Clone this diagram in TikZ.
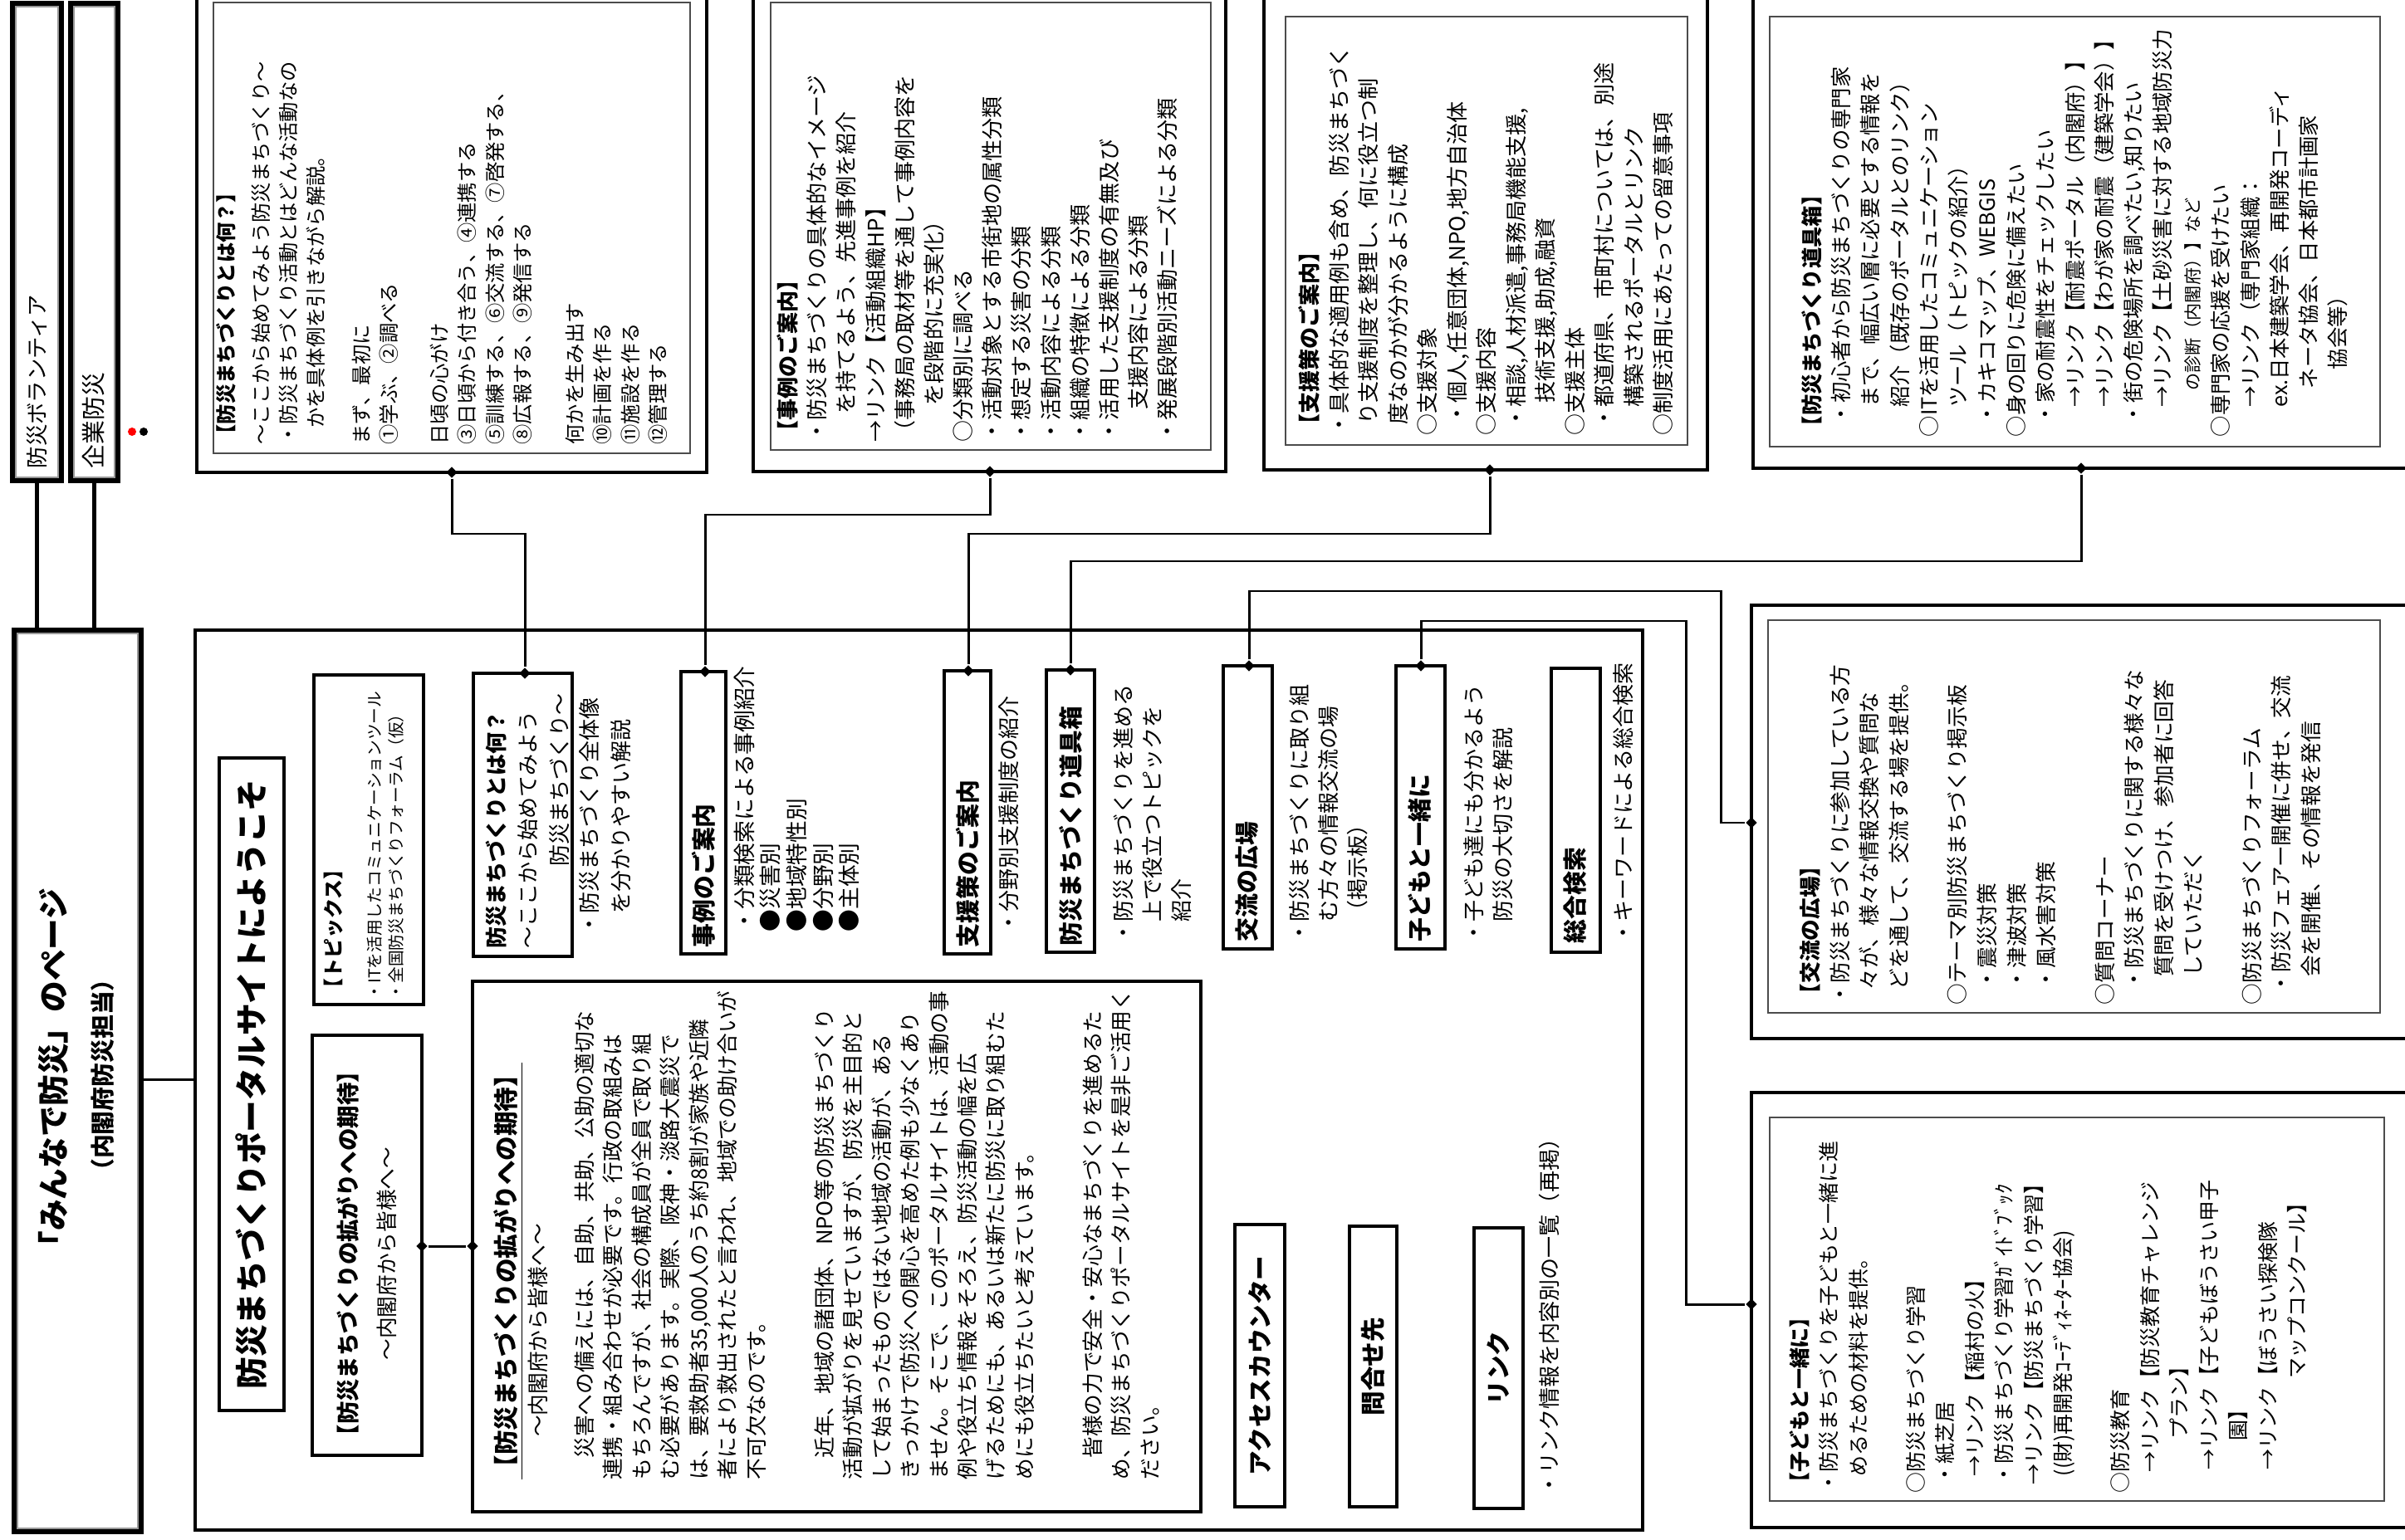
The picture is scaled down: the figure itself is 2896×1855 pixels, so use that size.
\documentclass[tikz,border=0pt]{standalone}
\usepackage{fontspec}
\setmainfont{Noto Sans CJK JP}
\usetikzlibrary{fit,shapes.geometric}

\newcommand{\ind}[1]{\hspace*{#1em}}

\begin{document}
\begin{tikzpicture}[x=0.01cm,y=-0.01cm,
  bar/.style={draw,line width=1.5pt,inner sep=0pt,path picture={\draw[black!40,line width=2.6pt] (path picture bounding box.south west) rectangle (path picture bounding box.north east);}},
  outer/.style={draw,line width=1.25pt,inner sep=0pt},
  inner/.style={draw=black!70,line width=0.7pt,inner sep=0pt},
  frame/.style={draw,line width=1pt,inner sep=0pt},
  menu/.style={draw,line width=0.95pt,inner sep=0pt},
  vtext/.style={rotate=90,anchor=north west,align=left,inner sep=0pt,font=\fontsize{7.4}{10}\selectfont},
  vlabel/.style={rotate=90,anchor=west,inner sep=0pt,font=\fontsize{8.2}{10}\selectfont\bfseries},
  vcenter/.style={rotate=90,inner sep=0pt,font=\fontsize{8.4}{10}\selectfont\bfseries},
  joint/.style={diamond,fill=black,inner sep=0pt,minimum size=0.14cm},
  link/.style={line width=0.85pt},
  trunk/.style={line width=1.6pt}
]
\useasboundingbox (0,0) rectangle (2896,1855);

% left column
\node[bar,fit={(15,4) (74,579)}] (volbar) {};
\node[bar,fit={(85,4) (142,579)}] (bizbar) {};
\node[bar,fit={(17,759) (170,1845)}] (titlebox) {};
\node[rotate=90,anchor=west,inner sep=0pt,font=\fontsize{7.5}{9}\selectfont] (voltext) at (45,565) {防災ボランティア};
\node[rotate=90,anchor=west,inner sep=0pt,font=\fontsize{8.2}{9}\selectfont] (biztext) at (113,565) {企業防災};
\node[circle,fill=red,inner sep=0pt,minimum size=0.1cm] (reddot) at (159,520) {};
\node[circle,fill=black,inner sep=0pt,minimum size=0.1cm] (blackdot) at (173,520) {};
\node[rotate=90,align=center,inner sep=0pt,font=\fontsize{10.7}{16}\selectfont\bfseries] (titletext) at (92,1295)
  {「みんなで防災」のページ\\{\fontsize{8.2}{10}\selectfont （内閣府防災担当）}};
\draw[trunk] (volbar.south) -- (volbar.south |- titlebox.north);
\draw[trunk] (bizbar.south) -- (bizbar.south |- titlebox.north);

% portal page
\node[frame,fit={(235,759) (1978,1843)}] (portal) {};
\draw[link] (titlebox.east |- 0,1300) -- (portal.west |- 0,1300);

\node[menu,fit={(264,913) (342,1699)}] (welcomebox) {};
\node[rotate=90,inner sep=0pt,font=\fontsize{11}{12}\selectfont\bfseries] (welcometext) at (welcomebox.center) {防災まちづくりポータルサイトにようこそ};

\node[menu,fit={(378,813) (510,1210)}] (topicsbox) {};
\node[vlabel,font=\fontsize{6.8}{8}\selectfont\bfseries] (topicstitle) at (402,1203) {【トピックス】};
\node[vtext,font=\fontsize{5.6}{7.4}\selectfont] (topicslist) at (441,1205) {・ITを活用したコミュニケーションツール\\・全国防災まちづくりフォーラム（仮）};

\node[menu,fit={(376,1247) (508,1753)}] (expectbox) {};
\node[vtext,align=center,font=\fontsize{7.3}{13}\selectfont] (expecttext) at (405,1744) {{\fontsize{7.8}{9}\selectfont\bfseries 【防災まちづくりの拡がりへの期待】}\\～内閣府から皆様へ～};

\node[menu,fit={(569,1182) (1446,1821)}] (messagebox) {};
\node[vtext,font=\fontsize{7.3}{9.8}\selectfont] (messagetext) at (594,1783) {{\fontsize{8.4}{10}\selectfont\bfseries\underline{【防災まちづくりの拡がりへの期待】}}\\[0.8pt]
\ind{2}～内閣府から皆様へ～\\[6pt]
　災害への備えには、自助、共助、公助の適切な\\
連携・組み合わせが必要です。行政の取組みは\\
もちろんですが、社会の構成員が全員で取り組\\
む必要があります。実際、阪神・淡路大震災で\\
は、要救助者35,000人のうち約8割が家族や近隣\\
者により救出されたと言われ、地域での助け合いが\\
不可欠なのです。\\[13.5pt]
　近年、地域の諸団体、NPO等の防災まちづくり\\
活動が拡がりを見せていますが、防災を主目的と\\
して始まったものではない地域の活動が、ある\\
きっかけで防災への関心を高めた例も少なくあり\\
ません。そこで、このポータルサイトは、活動の事\\
例や役立ち情報をそろえ、防災活動の幅を広\\
げるためにも、あるいは新たに防災に取り組むた\\
めにも役立ちたいと考えています。\\[13.5pt]
　皆様の力で安全・安心なまちづくりを進めるた\\
め、防災まちづくりポータルサイトを是非ご活用く\\
ださい。};

% menu items
\node[menu,fit={(570,811) (689,1152)}] (whatbox) {};
\node[vtext,font=\fontsize{7.4}{10.8}\selectfont] (whattext) at (584,1143) {{\bfseries 防災まちづくりとは何？}\\～ここから始めてみよう\\\ind{3.8}防災まちづくり～};
\node[vtext,font=\fontsize{7.4}{10.8}\selectfont] (whatdesc) at (697,1127) {・防災まちづくり全体像\\\ind{1}を分かりやすい解説};

\node[menu,fit={(820,809) (874,1149)}] (casebox) {};
\node[vlabel] (caselabel) at (847,1142) {事例のご案内};
\node[vtext,font=\fontsize{7.6}{9}\selectfont] (casedesc) at (883,1123) {・分類検索による事例紹介\\●災害別\\●地域特性別\\●分野別\\●主体別};

\node[menu,fit={(1137,808) (1193,1149)}] (supportbox) {};
\node[vlabel] (supportlabel) at (1165,1142) {支援策のご案内};
\node[vtext] (supportdesc) at (1202,1125) {・分野別支援制度の紹介};

\node[menu,fit={(1260,807) (1318,1147)}] (toolbox) {};
\node[vlabel] (toollabel) at (1289,1140) {防災まちづくり道具箱};
\node[vtext] (tooldesc) at (1340,1137) {・防災まちづくりを進める\\\ind{1}上で役立つトピックを\\\ind{1}紹介};

\node[menu,fit={(1473,802) (1532,1143)}] (forumbox) {};
\node[vlabel] (forumlabel) at (1502,1135) {交流の広場};
\node[vtext] (forumdesc) at (1552,1137) {・防災まちづくりに取り組\\\ind{1}む方々の情報交流の場\\\ind{1}（掲示板）};

\node[menu,fit={(1681,802) (1740,1143)}] (kidsbox) {};
\node[vlabel] (kidslabel) at (1710,1135) {子どもと一緒に};
\node[vtext] (kidsdesc) at (1762,1137) {・子ども達にも分かるよう\\\ind{1}防災の大切さを解説};

\node[menu,fit={(1868,805) (1927,1147)}] (searchbox) {};
\node[vlabel] (searchlabel) at (1897,1137) {総合検索};
\node[vtext] (searchdesc) at (1942,1137) {・キーワードによる総合検索};

\node[menu,fit={(1487,1475) (1547,1815)}] (counterbox) {};
\node[vcenter] (countertext) at (counterbox.center) {アクセスカウンター};
\node[menu,fit={(1625,1477) (1682,1815)}] (contactbox) {};
\node[vcenter] (contacttext) at (contactbox.center) {問合せ先};
\node[menu,fit={(1775,1479) (1834,1817)}] (linkbox) {};
\node[vcenter] (linktext) at (linkbox.center) {リンク};
\node[vtext] (linkdesc) at (1853,1802) {・リンク情報を内容別の一覧（再掲）};

% detail pages, top row
\node[outer,fit={(237,-10) (851,569)}] (whatframe) {};
\node[inner,fit={(257,3) (831,546)}] (whatpanel) {};
\node[vtext,font=\fontsize{6.9}{9.5}\selectfont] (whatpaneltext) at (260,536) {{\bfseries 【防災まちづくりとは何？】}\\[2.3pt]
～ここから始めてみよう防災まちづくり～\\
・防災まちづくり活動とはどんな活動なの\\
\ind{0.8}かを具体例を引きながら解説。\\[6pt]
まず、最初に\\
①学ぶ、②調べる\\[7.7pt]
日頃の心がけ\\
③日頃から付き合う、④連携する\\
⑤訓練する、⑥交流する、⑦啓発する、\\
⑧広報する、⑨発信する\\[8.3pt]
何かを生み出す\\
⑩計画を作る\\
⑪施設を作る\\
⑫管理する};

\node[outer,fit={(907,-10) (1476,568)}] (caseframe) {};
\node[inner,fit={(928,3) (1458,542)}] (casepanel) {};
\node[vtext] (casepaneltext) at (935,533) {{\bfseries 【事例のご案内】}\\
・防災まちづくりの具体的なイメージ\\
\ind{1.3}を持てるよう、先進事例を紹介\\
→リンク【活動組織HP】\\
（事務局の取材等を通して事例内容を\\
\ind{1.7}を段階的に充実化）\\
○分類別に調べる\\
・活動対象とする市街地の属性分類\\
・想定する災害の分類\\
・活動内容による分類\\
・組織の特徴による分類\\
・活用した支援制度の有無及び\\
\ind{1.5}支援内容による分類\\
・発展段階別活動ニーズによる分類};

\node[outer,fit={(1522,-10) (2056,566)}] (supportframe) {};
\node[inner,fit={(1548,20) (2032,536)}] (supportpanel) {};
\node[vtext,font=\fontsize{7.4}{10.1}\selectfont] (supportpaneltext) at (1563,525) {{\bfseries 【支援策のご案内】}\\
・具体的な適用例も含め、防災まちづく\\
\ind{0.5}り支援制度を整理し、何に役立つ制\\
\ind{0.5}度なのかが分かるように構成\\
○支援対象\\
\ind{0.5}・個人,任意団体,NPO,地方自治体\\
○支援内容\\
\ind{0.3}・相談,人材派遣,事務局機能支援,\\
\ind{1.5}技術支援,助成,融資\\
○支援主体\\
\ind{0.3}・都道府県、市町村については、別途\\
\ind{1.3}構築されるポータルとリンク\\
○制度活用にあたっての留意事項};

\node[outer,fit={(2111,-10) (2905,564)}] (toolframe) {};
\node[inner,fit={(2131,20) (2866,538)}] (toolpanel) {};
\node[vtext,font=\fontsize{7.2}{10}\selectfont] (toolpaneltext) at (2169,527) {{\bfseries 【防災まちづくり道具箱】}\\
\ind{0.6}・初心者から防災まちづくりの専門家\\
\ind{1.4}まで、幅広い層に必要とする情報を\\
\ind{1.4}紹介（既存のポータルとのリンク）\\
○ITを活用したコミュニケーション\\
\ind{1.4}ツール（トピックの紹介）\\
\ind{0.6}・カキコマップ、WEBGIS\\
○身の回りに危険に備えたい\\
\ind{0.6}・家の耐震性をチェックしたい\\
\ind{1.4}→リンク【耐震ポータル（内閣府）】\\
\ind{1.4}→リンク【わが家の耐震（建築学会）】\\
\ind{0.6}・街の危険場所を調べたい,知りたい\\
\ind{1.4}→リンク【土砂災害に対する地域防災力\\
\ind{2.2}{\fontsize{6}{7}\selectfont の診断（内閣府）】など}\\
○専門家の応援を受けたい\\
\ind{1.4}→リンク（専門家組織：\\
\ind{1.4}ex.日本建築学会、再開発コーディ\\
\ind{2.3}ネータ協会、日本都市計画家\\
\ind{3.2}協会等）};

% detail pages, right column
\node[outer,fit={(2109,729) (2905,1251)}] (forumframe) {};
\node[inner,fit={(2129,747) (2866,1220)}] (forumpanel) {};
\node[vtext,font=\fontsize{7.3}{10.1}\selectfont] (forumpaneltext) at (2167,1211) {{\bfseries 【交流の広場】}\\
・防災まちづくりに参加している方\\
\ind{0.7}々が、様々な情報交換や質問な\\
\ind{0.7}どを通して、交流する場を提供。\\[10pt]
○テーマ別防災まちづくり掲示板\\
\ind{0.7}・震災対策\\
\ind{0.7}・津波対策\\
\ind{0.7}・風水害対策\\[10pt]
○質問コーナー\\
\ind{0.7}・防災まちづくりに関する様々な\\
\ind{1.3}質問を受けつけ、参加者に回答\\
\ind{1.3}していただく\\[10pt]
○防災まちづくりフォーラム\\
\ind{0.5}・防災フェアー開催に併せ、交流\\
\ind{1.3}会を開催、その情報を発信};

\node[outer,fit={(2109,1316) (2905,1840)}] (kidsframe) {};
\node[inner,fit={(2131,1346) (2871,1808)}] (kidspanel) {};
\node[vtext,font=\fontsize{7.1}{10.1}\selectfont] (kidspaneltext) at (2154,1799) {{\bfseries 【子どもと一緒に】}\\
・防災まちづくりを子どもと一緒に進\\
\ind{0.8}めるための材料を提供。\\[9.5pt]
○防災まちづくり学習\\
\ind{0.4}・紙芝居\\
\ind{0.8}→リンク【稲村の火】\\
\ind{0.4}・防災まちづくり学習ｶﾞｲﾄﾞﾌﾞｯｸ\\
\ind{0.4}→リンク【防災まちづくり学習】\\
\ind{0.8}((財)再開発ｺｰﾃﾞｨﾈｰﾀｰ協会)\\[9.5pt]
○防災教育\\
\ind{1}→リンク【防災教育チャレンジ\\
\ind{2.6}プラン】\\
\ind{1.1}→リンク【子どもぼうさい甲子\\
\ind{2.5}園】\\
\ind{1.1}→リンク【ぼうさい探検隊\\
\ind{5.5}マップコンクール】};

% joints
\node[joint] (jA1) at (544,569) {};
\node[joint] (jA2) at (632,811) {};
\node[joint] (jB1) at (1192,568) {};
\node[joint] (jB2) at (849,809) {};
\node[joint] (jC1) at (1794,566) {};
\node[joint] (jC2) at (1166,808) {};
\node[joint] (jD1) at (2506,564) {};
\node[joint] (jD2) at (1289,807) {};
\node[joint] (jE1) at (1504,802) {};
\node[joint] (jE2) at (2109,991) {};
\node[joint] (jF1) at (1711,802) {};
\node[joint] (jF2) at (2109,1571) {};
\node[joint] (jG1) at (508,1501) {};
\node[joint] (jG2) at (569,1501) {};

\coordinate (railA) at (0,643);
\coordinate (railB) at (0,620);
\coordinate (railD) at (0,676);
\coordinate (bendE) at (2072,712);
\coordinate (bendF) at (2030,748);

\draw[link] (jA1) -- (jA1 |- railA) -| (jA2);
\draw[link] (jB1) -- (jB1 |- railB) -| (jB2);
\draw[link] (jC1) -- (jC1 |- railA) -| (jC2);
\draw[link] (jD1) -- (jD1 |- railD) -| (jD2);
\draw[link] (jE1) |- (bendE) |- (jE2);
\draw[link] (jF1) |- (bendF) |- (jF2);
\draw[link] (jG1) -- (jG2);
\end{tikzpicture}
\end{document}
